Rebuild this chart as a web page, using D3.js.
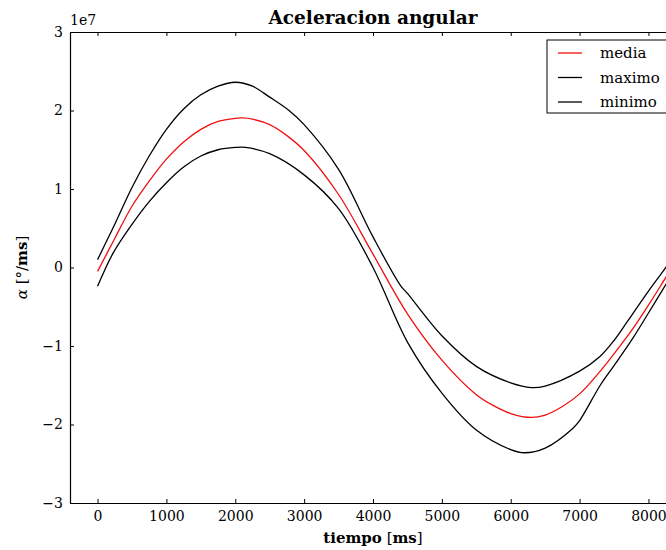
<!DOCTYPE html>
<html>
<head>
<meta charset="utf-8">
<script src="https://cdn.jsdelivr.net/npm/d3@7"></script>
<style>
  body { margin: 0; background: #fff; }
  text { font-family: "DejaVu Serif", serif; fill: #000; }
</style>
</head>
<body>
<div id="chart"></div>
<script>
// valores en unidades de 1e7 (grados/ms^2)
var tiempoMedia = [0, 250, 500, 750, 1000, 1250, 1500, 1750, 2000, 2100, 2250, 2500, 2750, 3000, 3500, 4000, 4500, 5000, 5500, 5750, 6000, 6300, 6500, 6750, 7000, 7300, 7500, 7774, 8000, 8250, 8400];
var media =       [-0.05, 0.37, 0.78, 1.10, 1.38, 1.60, 1.76, 1.86, 1.90, 1.905, 1.89, 1.82, 1.68, 1.49, 0.93, 0.17, -0.59, -1.18, -1.62, -1.76, -1.86, -1.91, -1.88, -1.77, -1.61, -1.32, -1.10, -0.78, -0.48, -0.13, 0.08];

var tiempoMax = [0, 250, 500, 750, 1000, 1250, 1500, 1750, 2000, 2250, 2500, 2780, 3000, 3500, 4000, 4400, 4500, 5000, 5500, 6000, 6300, 6500, 7000, 7300, 7500, 7700, 8000, 8250, 8400];
var maximo =    [0.10, 0.55, 1.02, 1.42, 1.76, 2.02, 2.20, 2.31, 2.36, 2.31, 2.17, 2.00, 1.82, 1.25, 0.39, -0.23, -0.33, -0.87, -1.26, -1.47, -1.53, -1.51, -1.32, -1.13, -0.93, -0.68, -0.30, 0.0, 0.2];

var tiempoMin = [0, 230, 500, 750, 1000, 1250, 1500, 1750, 2000, 2150, 2500, 3000, 3500, 4000, 4500, 5000, 5500, 6000, 6200, 6500, 6900, 7000, 7300, 7500, 7774, 8000, 8250, 8400];
var minimo =    [-0.24, 0.19, 0.55, 0.84, 1.08, 1.28, 1.42, 1.50, 1.53, 1.53, 1.45, 1.18, 0.75, 0.0, -0.95, -1.60, -2.07, -2.32, -2.36, -2.30, -2.05, -1.95, -1.50, -1.25, -0.90, -0.58, -0.22, 0.0];

var xTicks = [0, 1000, 2000, 3000, 4000, 5000, 6000, 7000, 8000];
var yTicks = [-3, -2, -1, 0, 1, 2, 3];
var series = [
  {nombre: "media", t: tiempoMedia, v: media, color: "#f01010"},
  {nombre: "maximo", t: tiempoMax, v: maximo, color: "#000000"},
  {nombre: "minimo", t: tiempoMin, v: minimo, color: "#000000"}
];

var svgWidth = 666;
var svgHeight = 550;
var margin = {top: 32, left: 70};
var width = 606;
var height = 471;

var svg = d3.select("#chart").append("svg")
  .attr("width", svgWidth)
  .attr("height", svgHeight);

var g = svg.append("g")
  .attr("transform", `translate(${margin.left},${margin.top})`);

var x = d3.scaleLinear().domain([-400, 8400]).range([0, width]);
var y = d3.scaleLinear().domain([-3e7, 3e7]).range([height, 0]);

g.append("clipPath").attr("id", "clip")
  .append("rect").attr("width", width).attr("height", height);

var line = d3.line()
  .x(function(d) { return x(d[0]); })
  .y(function(d) { return y(d[1] * 1e7); })
  .curve(d3.curveCatmullRom.alpha(0.5));

series.forEach(function(s) {
  var pts = s.t.map(function(t, i) { return [t, s.v[i]]; });
  g.append("path")
    .datum(pts)
    .attr("clip-path", "url(#clip)")
    .attr("fill", "none")
    .attr("stroke", s.color)
    .attr("stroke-width", 1.3)
    .attr("d", line);
});

// ejes con marcas hacia dentro
var fmtY = function(d) { return d3.format("d")(d / 1e7); };

var xAxis = g.append("g")
  .attr("transform", `translate(0,${height})`)
  .call(d3.axisBottom(x).tickValues(xTicks).tickFormat(d3.format("d")).tickSize(-4).tickPadding(8).tickSizeOuter(0));
var xTop = g.append("g")
  .call(d3.axisTop(x).tickValues(xTicks).tickSize(-4).tickFormat("").tickSizeOuter(0));
var yAxis = g.append("g")
  .call(d3.axisLeft(y).tickValues(yTicks.map(function(d) { return d * 1e7; })).tickFormat(fmtY).tickSize(-4).tickPadding(7).tickSizeOuter(0));
var yRight = g.append("g")
  .attr("transform", `translate(${width},0)`)
  .call(d3.axisRight(y).tickValues(yTicks.map(function(d) { return d * 1e7; })).tickSize(-4).tickFormat("").tickSizeOuter(0));

g.selectAll(".domain").attr("stroke", "#000").attr("stroke-width", 1.2);
g.selectAll(".tick line").attr("stroke", "#000");
g.selectAll(".tick text")
  .style("font-family", "DejaVu Serif")
  .style("font-size", "14px")
  .attr("fill", "#000");

// exponente
g.append("text")
  .attr("x", 0)
  .attr("y", -7)
  .style("font-size", "14px")
  .text("1e7");

// titulo
g.append("text")
  .attr("x", width / 2)
  .attr("y", -8)
  .attr("text-anchor", "middle")
  .style("font-size", "18.5px")
  .style("font-weight", "bold")
  .text("Aceleracion angular");

// etiqueta x
var xl = g.append("text")
  .attr("x", width / 2)
  .attr("y", height + 40)
  .attr("text-anchor", "middle")
  .style("font-size", "15px");
xl.append("tspan").style("font-weight", "bold").text("tiempo");
xl.append("tspan").text(" [");
xl.append("tspan").style("font-weight", "bold").text("ms");
xl.append("tspan").text("]");

// etiqueta y
var yl = g.append("text")
  .attr("transform", `translate(-43,${height / 2}) rotate(-90)`)
  .attr("text-anchor", "middle")
  .style("font-size", "15px");
yl.append("tspan").style("font-style", "italic").text("α");
yl.append("tspan").text(" [°/");
yl.append("tspan").style("font-weight", "bold").text("ms");
yl.append("tspan").text("]");

// leyenda
var leg = g.append("g").attr("transform", "translate(477,8)");
leg.append("rect")
  .attr("width", 150)
  .attr("height", 73)
  .attr("fill", "#fff")
  .attr("stroke", "#000")
  .attr("stroke-width", 1);
series.forEach(function(s, i) {
  var row = leg.append("g").attr("transform", `translate(0,${13 + i * 24.5})`);
  row.append("line")
    .attr("x1", 11).attr("x2", 35)
    .attr("stroke", s.color)
    .attr("stroke-width", 1.3);
  row.append("text")
    .attr("x", 53)
    .attr("dy", "0.35em")
    .style("font-size", "15px")
    .text(s.nombre);
});
</script>
</body>
</html>
